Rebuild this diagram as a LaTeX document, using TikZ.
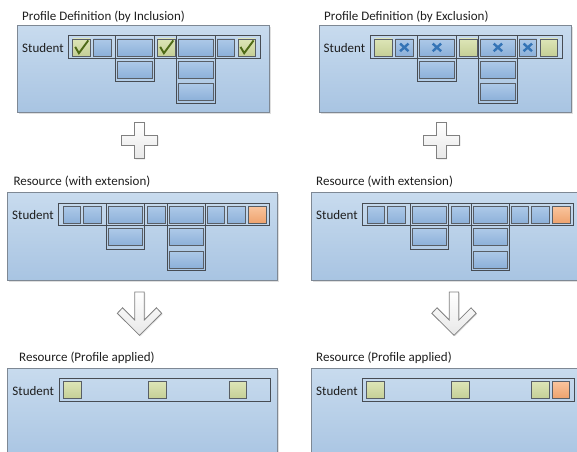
\documentclass[tikz,border=0pt]{standalone}
\usepackage{fontspec}
\setmainfont{Carlito}
\usetikzlibrary{shadows}

\definecolor{panelTop}{HTML}{C8DBEE}
\definecolor{panelBot}{HTML}{A8C4E2}
\definecolor{panelLine}{HTML}{7E8894}
\definecolor{boxTop}{HTML}{ADC9E8}
\definecolor{boxBot}{HTML}{8CB0D9}
\definecolor{boxLine}{HTML}{585E66}
\definecolor{greenTop}{HTML}{DDE5B7}
\definecolor{greenBot}{HTML}{C5CF96}
\definecolor{orangeTop}{HTML}{F9C49D}
\definecolor{orangeBot}{HTML}{EEA26D}
\definecolor{tickCol}{HTML}{4E6A17}
\definecolor{crossCol}{HTML}{3574B6}
\definecolor{frameCol}{HTML}{474C53}
\definecolor{textCol}{HTML}{1E1E1E}

\begin{document}
\begin{tikzpicture}[x=1pt, y=-1pt, font=\fontsize{13}{15}\selectfont,
  panel/.style={draw=panelLine, line width=0.8pt, top color=panelTop, bottom color=panelBot,
    drop shadow={shadow xshift=1.5pt, shadow yshift=-1.5pt, opacity=0.25}},
  frame/.style={draw=frameCol, line width=0.7pt},
  cell/.style={draw=boxLine, line width=0.7pt, top color=boxTop, bottom color=boxBot,
    minimum width=17.4pt, minimum height=17pt, inner sep=0pt, outer sep=0pt},
  widecell/.style={cell, minimum width=34.4pt},
  keep/.style={cell, top color=greenTop, bottom color=greenBot},
  added/.style={cell, top color=orangeTop, bottom color=orangeBot},
  tick/.style={draw=tickCol, line width=1.9pt, line join=miter},
  cross/.style={draw=crossCol, line width=2.4pt},
  title/.style={anchor=base west, inner sep=0pt, text=textCol},
  symbol/.style={draw=gray, line width=0.8pt, top color=white, bottom color=gray!18,
    drop shadow={shadow xshift=1pt, shadow yshift=-1pt, opacity=0.2}}]

\useasboundingbox (0,0) rectangle (577,451);
\clip (0,0) rectangle (577,451);

% panels
\path[panel] (17.3,25) rectangle (269,112.3);
\path[panel] (319.3,25) rectangle (571,112.3);
\path[panel] (7.5,192.7) rectangle (277.5,280);
\path[panel] (311.7,192.7) rectangle (581.7,280);
\path[panel] (7.8,368.3) rectangle (277.8,462);
\path[panel] (311.7,368.3) rectangle (581.7,462);

% titles
\node[title] (incTitle) at (22,20) {Profile Definition (by Inclusion)};
\node[title] (excTitle) at (324,20) {Profile Definition (by Exclusion)};
\node[title] (lxTitle) at (13.3,185) {Resource (with extension)};
\node[title] (rxTitle) at (316,185) {Resource (with extension)};
\node[title] (laTitle) at (19,361.5) {Resource (Profile applied)};
\node[title] (raTitle) at (316,361.5) {Resource (Profile applied)};

% student labels
\node[title] (incStudent) at (22,52) {Student};
\node[title] (excStudent) at (323.5,52) {Student};
\node[title] (lxStudent) at (12,219.5) {Student};
\node[title] (rxStudent) at (316,219.5) {Student};
\node[title] (laStudent) at (12.3,395) {Student};
\node[title] (raStudent) at (316,395) {Student};

% profile by inclusion
\begin{scope}[shift={(68.3,35.7)}]
  \draw[frame] (0,0) rectangle (192.4,23);
  \draw[frame] (47.3,0) rectangle (86,45.6);
  \draw[frame] (108.3,0) rectangle (147,67.6);
  \node[keep] (incA) at (13.2,11.7) {};
  \node[cell] (incB) at (34,11.7) {};
  \node[widecell] (incC) at (66.6,11.7) {};
  \node[widecell] (incC2) at (66.6,34.2) {};
  \node[keep] (incD) at (98.2,11.7) {};
  \node[widecell] (incE) at (127.6,11.7) {};
  \node[widecell] (incE2) at (127.6,34.2) {};
  \node[widecell] (incE3) at (127.6,56.5) {};
  \node[cell] (incF) at (157.5,11.7) {};
  \node[keep] (incG) at (178.5,11.7) {};
\end{scope}
\foreach \n in {incA,incD,incG}
  \draw[tick] ([shift={(-6.3,-0.5)}]\n.center) -- ([shift={(-2.6,5.8)}]\n.center)
    -- ([shift={(6.8,-7)}]\n.center);

% profile by exclusion
\begin{scope}[shift={(370.3,35.7)}]
  \draw[frame] (0,0) rectangle (192.4,23);
  \draw[frame] (47.3,0) rectangle (86,45.6);
  \draw[frame] (108.3,0) rectangle (147,67.6);
  \node[keep] (excA) at (13.2,11.7) {};
  \node[cell] (excB) at (34,11.7) {};
  \node[widecell] (excC) at (66.6,11.7) {};
  \node[widecell] (excC2) at (66.6,34.2) {};
  \node[keep] (excD) at (98.2,11.7) {};
  \node[widecell] (excE) at (127.6,11.7) {};
  \node[widecell] (excE2) at (127.6,34.2) {};
  \node[widecell] (excE3) at (127.6,56.5) {};
  \node[cell] (excF) at (157.5,11.7) {};
  \node[keep] (excG) at (178.5,11.7) {};
\end{scope}
\foreach \n in {excB,excC,excE,excF}
  \draw[cross] ([shift={(-4.2,-3.8)}]\n.center) -- ([shift={(4.2,3.8)}]\n.center)
    ([shift={(-4.2,3.8)}]\n.center) -- ([shift={(4.2,-3.8)}]\n.center);

% resource with extension, both sides
\foreach \sx/\p in {58.7/lx, 362.7/rx} {
  \begin{scope}[shift={(\sx,203.3)}]
    \draw[frame] (0,0) rectangle (210.6,22.4);
    \draw[frame] (47.3,0) rectangle (86,45.7);
    \draw[frame] (108.3,0) rectangle (147,66.7);
    \node[cell] (\p A) at (13,11.7) {};
    \node[cell] (\p B) at (33.5,11.7) {};
    \node[widecell] (\p C) at (66.6,11.7) {};
    \node[widecell] (\p C2) at (66.6,33.9) {};
    \node[cell] (\p D) at (97.6,11.7) {};
    \node[widecell] (\p E) at (127.6,11.7) {};
    \node[widecell] (\p E2) at (127.6,33.9) {};
    \node[widecell] (\p E3) at (127.6,56.3) {};
    \node[cell] (\p F) at (157.3,11.7) {};
    \node[cell] (\p G) at (177.8,11.7) {};
    \node[added] (\p H) at (198.5,11.7) {};
  \end{scope}
}

% resource with profile applied
\begin{scope}[shift={(59,378.3)}]
  \draw[frame] (0,0) rectangle (211.3,23.4);
  \node[keep] (laA) at (13.3,11.7) {};
  \node[keep] (laD) at (98.5,11.7) {};
  \node[keep] (laG) at (178.6,11.7) {};
\end{scope}
\begin{scope}[shift={(362.7,378.3)}]
  \draw[frame] (0,0) rectangle (211.3,23.4);
  \node[keep] (raA) at (12.8,11.7) {};
  \node[keep] (raD) at (97.5,11.7) {};
  \node[keep] (raG) at (177.5,11.7) {};
  \node[added] (raH) at (198.3,11.7) {};
\end{scope}

% plus signs
\foreach \cx in {139.4, 441.4}
  \path[symbol, shift={(\cx,140.2)}] (-4.75,-18.3) -- (4.75,-18.3) -- (4.75,-4.75)
    -- (18.3,-4.75) -- (18.3,4.75) -- (4.75,4.75) -- (4.75,18.3) -- (-4.75,18.3)
    -- (-4.75,4.75) -- (-18.3,4.75) -- (-18.3,-4.75) -- (-4.75,-4.75) -- cycle;

% down arrows
\foreach \cx in {139.5, 454}
  \path[symbol, shift={(\cx,292)}] (-4.8,0) -- (4.8,0) -- (4.8,28) -- (17,15.8)
    -- (22.2,21.3) -- (0,43.3) -- (-22.2,21.3) -- (-17,15.8) -- (-4.8,28) -- cycle;

\end{tikzpicture}
\end{document}
